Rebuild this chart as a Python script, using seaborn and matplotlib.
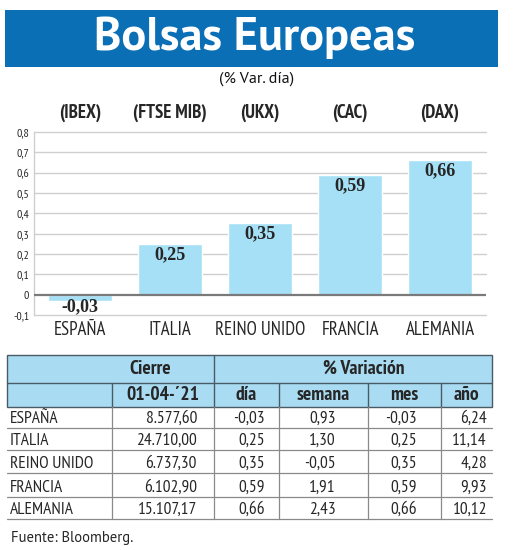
import matplotlib
matplotlib.use("Agg")
import matplotlib.pyplot as plt
import seaborn as sns
import pandas as pd
from matplotlib.patches import Rectangle

# ---------------- data ----------------
countries = ["ESPAÑA", "ITALIA", "REINO UNIDO", "FRANCIA", "ALEMANIA"]
indices = ["(IBEX)", "(FTSE MIB)", "(UKX)", "(CAC)", "(DAX)"]
var_dia = [-0.03, 0.25, 0.35, 0.59, 0.66]
cierre = ["8.577,60", "24.710,00", "6.737,30", "6.102,90", "15.107,17"]
dia = ["-0,03", "0,25", "0,35", "0,59", "0,66"]
semana = ["0,93", "1,30", "-0,05", "1,91", "2,43"]
mes = ["-0,03", "0,25", "0,35", "0,59", "0,66"]
anio = ["6,24", "11,14", "4,28", "9,93", "10,12"]
yticks = [-0.1, 0, 0.1, 0.2, 0.3, 0.4, 0.5, 0.6, 0.7, 0.8]
title = "Bolsas Europeas"
subtitle = "(% Var. día)"
header_top = ["Cierre", "% Variación"]
header_sub = ["01-04-´21", "día", "semana", "mes", "año"]
source = "Fuente: Bloomberg."

# ---------------- style ----------------
sns.set_style("white")
plt.rcParams["font.family"] = ["PT Sans Narrow", "DejaVu Sans"]
SERIF = ["Liberation Serif", "DejaVu Serif"]
WIDE = ["PT Sans", "DejaVu Sans"]

BLUE = "#0b6fb6"
BAR = "#a6e0f6"
HEAD = "#a9dcf2"
W, H = 520, 550

fig = plt.figure(figsize=(5.2, 5.5), dpi=100)

# background canvas in pixel coordinates
bg = fig.add_axes([0, 0, 1, 1])
bg.set_xlim(0, W)
bg.set_ylim(H, 0)
bg.axis("off")

# title banner
bg.add_patch(Rectangle((5, 10), 493, 57, facecolor=BLUE, edgecolor="none"))
bg.text(255, 38, title, color="white", fontsize=33.5, fontweight="bold",
        family=WIDE, ha="center", va="center")
bg.text(257, 79, subtitle, fontsize=11.5, family=WIDE, ha="center",
        va="center", color="#111111")

# ---------------- bar chart ----------------
ax = fig.add_axes([34 / W, 1 - 315 / H, 452 / W, 183 / H])
df = pd.DataFrame({"pais": countries, "var": var_dia})
sns.barplot(data=df, x="pais", y="var", color=BAR, width=0.72, ax=ax,
            saturation=1, zorder=3)
ax.set_xlim(-0.51, 4.51)
ax.set_ylim(-0.1, 0.8)
ax.set_yticks(yticks)
ax.set_yticklabels([("%g" % t).replace(".", ",") for t in yticks], fontsize=8.5)
ax.tick_params(axis="y", length=0, pad=3.5)
ax.tick_params(axis="x", length=0, pad=4, labelsize=13.5)
ax.set_xlabel("")
ax.set_ylabel("")
for t in yticks:
    if t == 0:
        ax.axhline(0, color="#7a7a7a", lw=1.6, zorder=4)
    else:
        ax.axhline(t, color="#cfcfcf", lw=1.0, zorder=1, clip_on=False)
for s in ["top", "right", "bottom"]:
    ax.spines[s].set_visible(False)
ax.spines["left"].set_color("#cfcfcf")
ax.spines["left"].set_linewidth(1.0)

for i, (v, idx) in enumerate(zip(var_dia, indices)):
    lab = ("%.2f" % v).replace(".", ",")
    ypos = v - 0.052 if v >= 0 else v - 0.027
    ax.text(i, ypos, lab, ha="center", va="center", fontsize=13,
            fontweight="bold", family=SERIF, zorder=5)
    ax.text(i, 0.8 + 0.093, idx, ha="center", va="center", fontsize=13.5,
            fontweight="bold", clip_on=False)

# ---------------- table ----------------
cols = [7, 112, 214, 279, 368, 441, 492]
y_top, y_mid, y_head = 355, 383, 407
row_lines = [428, 450, 473, 497, 519]
LC = "#4b5b66"
GC = "#8a8a8a"

bg.add_patch(Rectangle((cols[0], y_top), cols[-1] - cols[0], y_head - y_top,
                       facecolor=HEAD, edgecolor=LC, lw=1.0))
bg.plot([cols[0], cols[-1]], [y_mid, y_mid], color=LC, lw=1.0)
bg.plot([cols[2], cols[2]], [y_top, y_head], color=LC, lw=1.0)
for c in [cols[1], cols[3], cols[4], cols[5]]:
    bg.plot([c, c], [y_mid, y_head], color=LC, lw=1.0)

bg.text(150, (y_top + y_mid) / 2, header_top[0],
        ha="center", va="center", fontsize=14, fontweight="bold")
bg.text(364, (y_top + y_mid) / 2, header_top[1],
        ha="center", va="center", fontsize=14, fontweight="bold")
for j, lab in enumerate(header_sub):
    bg.text((cols[j + 1] + cols[j + 2]) / 2, (y_mid + y_head) / 2, lab,
            ha="center", va="center", fontsize=14, fontweight="bold")

for c in cols[1:-1]:
    bg.plot([c, c], [y_head, row_lines[-1]], color=GC, lw=0.9)
for yl in row_lines:
    bg.plot([cols[0], cols[-1]], [yl, yl], color=GC, lw=0.9)

table_cols = [cierre, dia, semana, mes, anio]
right_edges = [197, 265, 336, 417, 487]
for r in range(len(countries)):
    yc = row_lines[r] - 9
    bg.text(10, yc, countries[r], ha="left", va="center", fontsize=12.5)
    for j in range(5):
        bg.text(right_edges[j], yc, table_cols[j][r], ha="right", va="center",
                fontsize=12.5)

bg.text(11, 538, source, ha="left", va="center", fontsize=10.5, family=WIDE)

fig.savefig("out.png", dpi=100)
